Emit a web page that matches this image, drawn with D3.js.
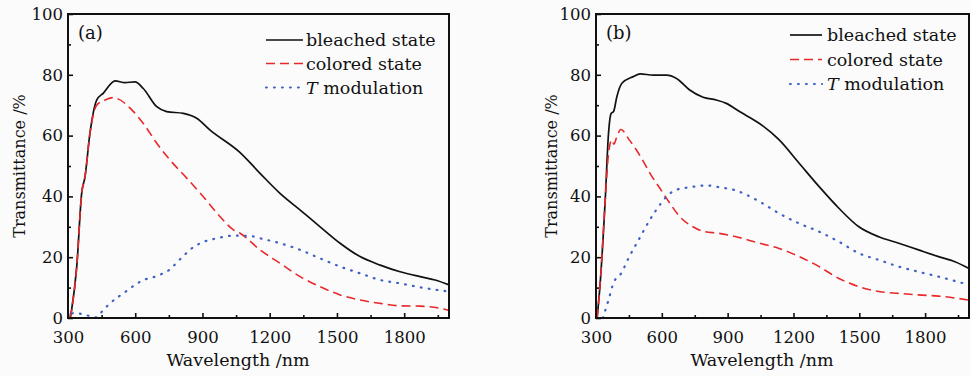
<!DOCTYPE html>
<html>
<head>
<meta charset="utf-8">
<script src="https://cdn.jsdelivr.net/npm/d3@7"></script>
<style>
  html, body { margin: 0; padding: 0; background: #fbfbfb; }
  svg { display: block; }
  text { font-family: "DejaVu Serif", serif; fill: #111; }
</style>
</head>
<body>
<div id="chart"></div>
<script>
// ---- data (wavelength in nm, transmittance in %) ----
const xTicks = [300, 600, 900, 1200, 1500, 1800];
const yTicks = [0, 20, 40, 60, 80, 100];
const seriesNames = ['bleached state', 'colored state', 'modulation'];

// panel (a)
const aBleachedWl = [310, 316, 339, 361, 376, 398, 428, 458, 510, 554, 599, 636, 696, 740, 815, 874, 934, 1068, 1157, 1246, 1336, 1425, 1514, 1603, 1693, 1782, 1871, 1938, 2000];
const aBleachedT  = [0, 2.6, 16.9, 41, 46.5, 60.8, 71.7, 74, 78, 77.4, 77.7, 75.5, 69.5, 67.9, 67.3, 65.7, 61.8, 54.4, 47.6, 41, 35.5, 30, 24.6, 20.2, 17.4, 15.2, 13.6, 12.5, 10.9];
const aColoredWl  = [310, 316, 339, 361, 376, 398, 428, 460, 500, 592, 636, 696, 755, 830, 904, 979, 1038, 1068, 1157, 1246, 1336, 1425, 1514, 1603, 1693, 1782, 1871, 1960, 2000];
const aColoredT   = [0, 2.6, 16.9, 41, 46.5, 60.8, 70, 71.5, 72.5, 67.9, 64, 57.5, 52, 46, 39.9, 33.3, 29, 27.9, 22.4, 18, 13.6, 10.3, 7.6, 5.9, 4.8, 4.0, 3.9, 3.2, 2.5];
const aModWl      = [318, 331, 361, 400, 425, 455, 487, 525, 562, 599, 644, 681, 718, 755, 785, 815, 859, 897, 964, 1038, 1112, 1157, 1246, 1336, 1425, 1514, 1603, 1693, 1782, 1871, 2000];
const aModT       = [1.5, 1.7, 1.3, 0.6, 0.2, 2.4, 4.8, 7, 8.9, 10.9, 12.7, 13.4, 14.5, 16, 18.2, 20.4, 23.3, 24.8, 26.2, 27.1, 27, 26.2, 24.6, 22.4, 19.6, 16.9, 14.7, 12.5, 11.4, 10.1, 8.7];

// panel (b)
const bBleachedWl = [305, 319, 342, 357, 369, 380, 395, 418, 470, 501, 561, 622, 667, 727, 788, 848, 894, 954, 1045, 1135, 1226, 1317, 1407, 1498, 1589, 1680, 1770, 1861, 1936, 2000];
const bBleachedT  = [0, 11.4, 38.8, 60.7, 67.3, 67.9, 72.8, 77.2, 79.4, 80.3, 79.9, 79.9, 78.8, 75, 72.6, 71.7, 70.6, 67.9, 64, 58.6, 50.9, 43.2, 36.1, 30, 26.7, 24.6, 22.4, 20.2, 18.5, 16.3];
const bColoredWl  = [305, 319, 342, 357, 372, 382, 392, 413, 452, 508, 546, 591, 637, 682, 735, 795, 856, 924, 1045, 1135, 1226, 1317, 1407, 1498, 1589, 1680, 1770, 1861, 2000];
const bColoredT   = [0, 11.4, 38.8, 54, 58.6, 57.2, 59, 62, 58.6, 52.5, 47.6, 42.7, 37.7, 33.3, 30.3, 28.4, 27.9, 27, 24.6, 22.9, 20.2, 16.9, 13, 10.3, 8.7, 8.1, 7.6, 7.2, 5.9];
const bModWl      = [331, 357, 380, 413, 452, 498, 543, 596, 629, 664, 727, 806, 863, 931, 1045, 1135, 1226, 1317, 1407, 1498, 1589, 1680, 1770, 1861, 2000];
const bModT       = [0, 5.9, 11.6, 14.5, 20.2, 26.2, 32, 37.7, 40.5, 42.1, 43, 43.6, 43, 42.1, 38.3, 34.4, 31.1, 28.4, 25.1, 21.3, 19.1, 16.9, 15.2, 13.6, 10.9];

// ---- layout / style ----
const width = 971, height = 376;
const plotTop = 14, plotBottom = 318;
const styles = [
    { color: '#111', dash: null, w: 1.7 },
    { color: '#e8282a', dash: '9,5', w: 1.6 },
    { color: '#3f60c4', dash: '0.8,7.2', w: 2.2, cap: 'round' }
];

const panels = [
    {
        label: '(a)', left: 68, right: 449,
        series: [[aBleachedWl, aBleachedT], [aColoredWl, aColoredT], [aModWl, aModT]],
        xTitleX: 238, yTitleX: 25,
        legend: { x0: 266, x1: 303, tx: 306, ys: [40, 63.5, 87.5] }
    },
    {
        label: '(b)', left: 596, right: 969,
        series: [[bBleachedWl, bBleachedT], [bColoredWl, bColoredT], [bModWl, bModT]],
        xTitleX: 762, yTitleX: 557,
        legend: { x0: 790, x1: 822, tx: 827, ys: [35, 59.5, 84] }
    }
];

const svg = d3.select('#chart')
    .append('svg')
    .attr('width', width)
    .attr('height', height);

panels.forEach(p => drawPanel(p));

function drawPanel(p) {
    const x = d3.scaleLinear().domain([300, 2000]).range([p.left, p.right]);
    const y = d3.scaleLinear().domain([0, 100]).range([plotBottom, plotTop]);

    const g = svg.append('g');

    // minor ticks (every 150 nm / 10 %)
    g.append('g')
        .attr('transform', `translate(0,${plotBottom})`)
        .call(d3.axisBottom(x).tickValues(d3.range(450, 2000, 300)).tickSize(-3).tickFormat(''))
        .call(a => a.select('.domain').remove());
    g.append('g')
        .attr('transform', `translate(${p.left},0)`)
        .call(d3.axisLeft(y).tickValues(d3.range(10, 100, 20)).tickSize(-3).tickFormat(''))
        .call(a => a.select('.domain').remove());

    // major ticks
    const xAxis = g.append('g')
        .attr('transform', `translate(0,${plotBottom})`)
        .call(d3.axisBottom(x).tickValues(xTicks).tickSize(-5).tickPadding(13).tickFormat(d3.format('d')));
    const yAxis = g.append('g')
        .attr('transform', `translate(${p.left},0)`)
        .call(d3.axisLeft(y).tickValues(yTicks).tickSize(-5).tickPadding(5).tickFormat(d3.format('d')));

    [xAxis, yAxis].forEach(a => {
        a.select('.domain').remove();
        a.selectAll('text').attr('font-size', 16.5).attr('font-family', '"DejaVu Serif", serif').attr('fill', '#111');
    });
    g.selectAll('.tick line').attr('stroke', '#111').attr('stroke-width', 1.6);

    // curves
    const line = d3.line()
        .x(d => x(d[0]))
        .y(d => y(d[1]))
        .curve(d3.curveMonotoneX);

    p.series.forEach((s, i) => {
        const pts = s[0].map((w, k) => [w, s[1][k]]);
        g.append('path')
            .datum(pts)
            .attr('fill', 'none')
            .attr('stroke', styles[i].color)
            .attr('stroke-width', styles[i].w)
            .attr('stroke-dasharray', styles[i].dash)
            .attr('stroke-linecap', styles[i].cap || 'butt')
            .attr('d', line);
    });

    // frame
    g.append('rect')
        .attr('x', p.left)
        .attr('y', plotTop)
        .attr('width', p.right - p.left)
        .attr('height', plotBottom - plotTop)
        .attr('fill', 'none')
        .attr('stroke', '#111')
        .attr('stroke-width', 2);

    // panel label
    g.append('text')
        .attr('x', p.left + 10)
        .attr('y', 39)
        .attr('font-size', 18)
        .text(p.label);

    // legend
    const lg = p.legend;
    seriesNames.forEach((name, i) => {
        g.append('line')
            .attr('x1', lg.x0).attr('x2', lg.x1)
            .attr('y1', lg.ys[i]).attr('y2', lg.ys[i])
            .attr('stroke', styles[i].color)
            .attr('stroke-width', styles[i].w)
            .attr('stroke-dasharray', styles[i].dash)
            .attr('stroke-linecap', styles[i].cap || 'butt');
        const t = g.append('text')
            .attr('x', lg.tx)
            .attr('y', lg.ys[i] + 6)
            .attr('font-size', 17.5);
        if (i === 2) {
            t.append('tspan').attr('font-style', 'italic').text('T');
            t.append('tspan').text(' ' + name);
        } else {
            t.text(name);
        }
    });

    // axis titles
    g.append('text')
        .attr('x', p.xTitleX)
        .attr('y', 366)
        .attr('text-anchor', 'middle')
        .attr('font-size', 17.5)
        .text('Wavelength /nm');

    g.append('text')
        .attr('transform', `translate(${p.yTitleX},${(plotTop + plotBottom) / 2}) rotate(-90)`)
        .attr('text-anchor', 'middle')
        .attr('font-size', 16)
        .text('Transmittance /%');
}
</script>
</body>
</html>
